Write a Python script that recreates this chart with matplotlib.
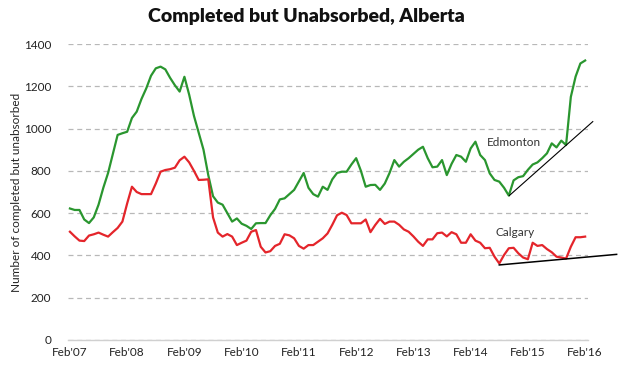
import matplotlib
matplotlib.use("Agg")
import matplotlib.pyplot as plt

# monthly data, Feb 2007 .. Feb 2016
edmonton = [622, 615, 615, 570, 553, 580, 640, 720, 790, 880, 970, 978,
            985, 1050, 1080, 1140, 1190, 1250, 1285, 1293, 1280, 1240, 1205, 1175,
            1245, 1160, 1060, 980, 900, 780, 680, 650, 640, 600, 560, 575,
            550, 540, 525, 552, 553, 553, 590, 620, 665, 670, 690, 710,
            750, 790, 720, 690, 678, 725, 710, 760, 790, 796, 796, 830,
            860, 800, 725, 733, 734, 710, 740, 790, 851, 820, 843, 860,
            880, 900, 914, 860, 817, 820, 851, 780, 833, 875, 867, 843,
            906, 938, 875, 851, 788, 757, 749, 720, 683, 755, 770, 775,
            805, 830, 840, 860, 883, 930, 911, 943, 922, 1150, 1246, 1308,
            1322]
calgary = [512, 490, 470, 468, 494, 500, 508, 498, 489, 510, 530, 560,
           646, 725, 700, 690, 690, 690, 740, 796, 804, 808, 815, 850,
           867, 840, 800, 757, 758, 760, 580, 508, 489, 501, 489, 449,
           460, 470, 512, 520, 441, 414, 420, 445, 455, 500, 495, 481,
           445, 432, 449, 449, 465, 481, 504, 545, 590, 602, 591, 552,
           552, 552, 570, 510, 544, 573, 549, 560, 560, 545, 523, 512,
           490, 465, 445, 476, 476, 505, 508, 490, 510, 500, 460, 460,
           500, 470, 460, 434, 436, 394, 362, 402, 434, 436, 410, 390,
           382, 460, 445, 449, 430, 415, 394, 390, 385, 441, 486, 486,
           489]
tick_labels = ["Feb'07", "Feb'08", "Feb'09", "Feb'10", "Feb'11",
               "Feb'12", "Feb'13", "Feb'14", "Feb'15", "Feb'16"]

# hand-drawn trend lines (month index, value)
edm_trend_x = [92.1, 109.6]
edm_trend_y = [683, 1033]
cal_trend_x = [90, 114.6]
cal_trend_y = [355, 405]

plt.rcParams['font.family'] = ['Lato', 'DejaVu Sans']

fig = plt.figure(figsize=(6.2, 3.73), dpi=100)
ax = fig.add_axes([0.1097, 0.0885, 0.8387, 0.7935])

months = list(range(len(edmonton)))
ax.plot(months, edmonton, color='#2a962f', lw=1.6)
ax.plot(months, calgary, color='#e4252b', lw=1.6)

ax.plot(edm_trend_x, edm_trend_y, color='black', lw=0.8, clip_on=False)
ax.plot(cal_trend_x, cal_trend_y, color='black', lw=1.1, clip_on=False)

ax.text(93.1, 932, 'Edmonton', ha='center', va='center', fontsize=8.5, color='#333333')
ax.text(93.4, 508, 'Calgary', ha='center', va='center', fontsize=8.5, color='#333333')

ax.set_xlim(-0.4, 108.6)
ax.set_ylim(0, 1400)
ax.set_yticks(range(0, 1401, 200))
ax.set_xticks(range(0, 109, 12))
ax.set_xticklabels(tick_labels)
ax.tick_params(axis='both', length=0, labelsize=8.5, colors='#222222')
ax.tick_params(axis='y', pad=12)
ax.tick_params(axis='x', pad=5)

ax.yaxis.grid(True, linestyle=(0, (4, 3)), color='#b8b8b8', lw=0.9)
ax.set_axisbelow(True)
for s in ['top', 'right', 'left']:
    ax.spines[s].set_visible(False)
ax.spines['bottom'].set_color('#d0d0d0')
ax.spines['bottom'].set_linewidth(1.0)

ax.set_ylabel('Number of completed but unabsorbed', fontsize=8.5, color='#222222')
ax.yaxis.set_label_coords(-0.088, 0.5)
fig.text(0.494, 0.955, 'Completed but Unabsorbed, Alberta', ha='center', va='center',
         fontsize=14, fontweight='heavy', color='#111111')

fig.savefig('out.png', dpi=100)
